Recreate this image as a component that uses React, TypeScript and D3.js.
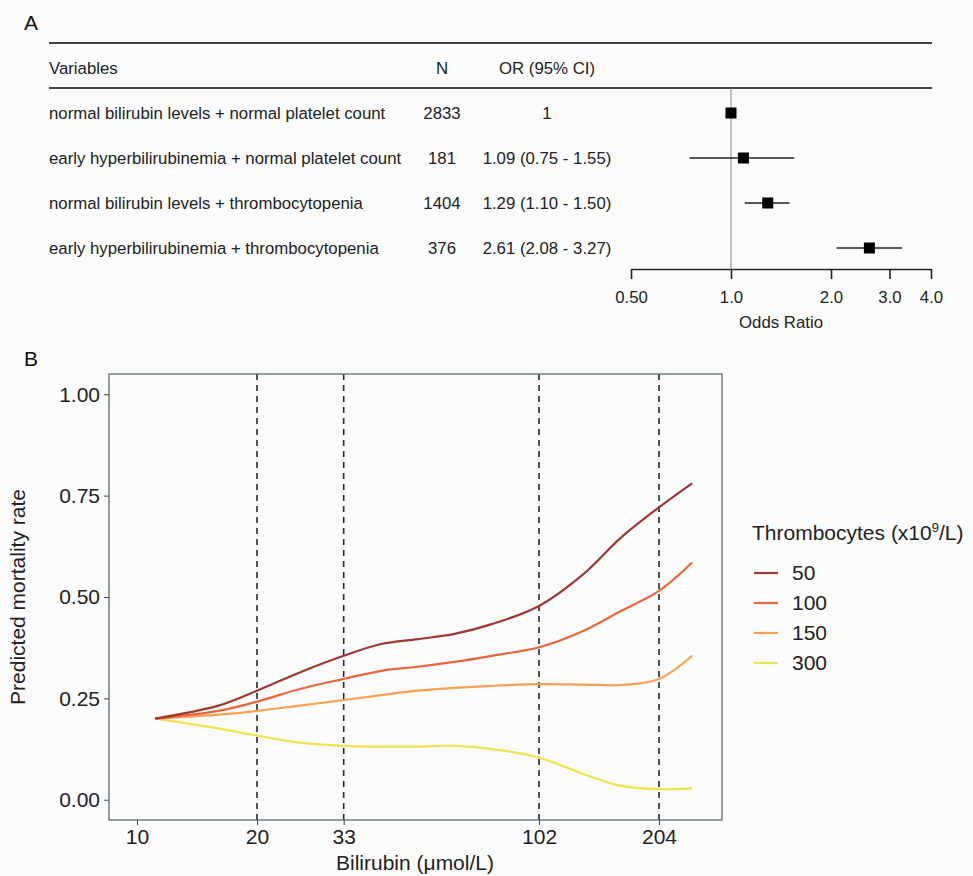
import { useEffect, useRef } from 'react';
import * as d3 from 'd3';

// Panel A: forest plot
const variables = [
  'normal bilirubin levels + normal platelet count',
  'early hyperbilirubinemia + normal platelet count',
  'normal bilirubin levels + thrombocytopenia',
  'early hyperbilirubinemia + thrombocytopenia',
];
const counts = ['2833', '181', '1404', '376'];
const orText = ['1', '1.09 (0.75 - 1.55)', '1.29 (1.10 - 1.50)', '2.61 (2.08 - 3.27)'];
const orValues = [1, 1.09, 1.29, 2.61];
const ciLow = [null, 0.75, 1.1, 2.08];
const ciHigh = [null, 1.55, 1.5, 3.27];
const orTicks = [0.5, 1, 2, 3, 4];
const orTickLabels = ['0.50', '1.0', '2.0', '3.0', '4.0'];

// Panel B: predicted mortality
const bilirubin = [11.1, 16, 20, 25.6, 33, 41, 50.6, 62.6, 77.6, 102, 132, 164, 204, 247];
const thrombo50 = [0.2, 0.232, 0.269, 0.314, 0.355, 0.384, 0.396, 0.409, 0.433, 0.478, 0.557, 0.647, 0.721, 0.78];
const thrombo100 = [0.2, 0.219, 0.242, 0.273, 0.298, 0.318, 0.328, 0.34, 0.355, 0.376, 0.417, 0.466, 0.515, 0.585];
const thrombo150 = [0.2, 0.21, 0.219, 0.232, 0.246, 0.258, 0.269, 0.276, 0.281, 0.285, 0.284, 0.283, 0.298, 0.355];
const thrombo300 = [0.2, 0.176, 0.158, 0.141, 0.133, 0.131, 0.131, 0.133, 0.125, 0.104, 0.063, 0.034, 0.026, 0.028];
const seriesNames = ['50', '100', '150', '300'];
const seriesColors = ['#9c3a30', '#e8653d', '#f6a050', '#efe34c'];
const cutoffs = [20, 33, 102, 204];
const xTicksB = [10, 20, 33, 102, 204];
const yTicksB = [0, 0.25, 0.5, 0.75, 1];

const FONT = '"Liberation Sans", Arial, Helvetica, sans-serif';

function App() {
  const svgRef = useRef(null);

  useEffect(() => {
    const width = 973;
    const height = 876;
    const svg = d3.select(svgRef.current)
      .attr('width', width)
      .attr('height', height)
      .style('font-family', FONT);
    svg.selectAll('*').remove();

    svg.append('rect').attr('width', width).attr('height', height).attr('fill', '#fbfbfc');

    // ---------- Panel A ----------
    svg.append('text').attr('x', 24).attr('y', 30).attr('font-size', 21).attr('fill', '#111').text('A');

    const rowY = d3.scalePoint().domain(variables).range([113, 248]);
    const tableLeft = 49;
    const tableRight = 932;
    const nX = 442;
    const orX = 547;
    const fsA = 16.8;

    [43, 88].forEach(y => {
      svg.append('line')
        .attr('x1', tableLeft).attr('x2', tableRight)
        .attr('y1', y).attr('y2', y)
        .attr('stroke', '#3c4448').attr('stroke-width', 1.8);
    });

    const header = svg.append('g').attr('font-size', fsA).attr('fill', '#222');
    header.append('text').attr('x', tableLeft).attr('y', 68).attr('dy', '0.35em').text('Variables');
    header.append('text').attr('x', nX).attr('y', 68).attr('dy', '0.35em').attr('text-anchor', 'middle').text('N');
    header.append('text').attr('x', orX).attr('y', 68).attr('dy', '0.35em').attr('text-anchor', 'middle').text('OR (95% CI)');

    const rows = svg.append('g').attr('font-size', fsA).attr('fill', '#222');
    variables.forEach((v, i) => {
      const y = rowY(v);
      rows.append('text').attr('x', tableLeft).attr('y', y).attr('dy', '0.35em').text(v);
      rows.append('text').attr('x', nX).attr('y', y).attr('dy', '0.35em').attr('text-anchor', 'middle').text(counts[i]);
      rows.append('text').attr('x', orX).attr('y', y).attr('dy', '0.35em').attr('text-anchor', 'middle').text(orText[i]);
    });

    const xOR = d3.scaleLog().base(2).domain([0.5, 4]).range([631, 931]);
    const axisY = 269;

    svg.append('line')
      .attr('x1', xOR(1)).attr('x2', xOR(1))
      .attr('y1', 88).attr('y2', axisY)
      .attr('stroke', '#888').attr('stroke-width', 1);

    variables.forEach((v, i) => {
      const y = rowY(v);
      if (ciLow[i] != null) {
        svg.append('line')
          .attr('x1', xOR(ciLow[i])).attr('x2', xOR(ciHigh[i]))
          .attr('y1', y).attr('y2', y)
          .attr('stroke', '#222').attr('stroke-width', 1.4);
      }
      svg.append('rect')
        .attr('x', xOR(orValues[i]) - 5.5).attr('y', y - 5.5)
        .attr('width', 11).attr('height', 11)
        .attr('fill', '#000');
    });

    const orAxis = svg.append('g')
      .attr('transform', `translate(0, ${axisY})`)
      .call(d3.axisBottom(xOR).tickValues(orTicks).tickFormat((d, i) => orTickLabels[i]).tickSize(10).tickSizeOuter(0).tickPadding(12));
    orAxis.select('.domain').attr('stroke', '#222').attr('stroke-width', 1.6);
    orAxis.selectAll('.tick line').attr('stroke', '#222').attr('stroke-width', 1.6);
    orAxis.selectAll('.tick text').attr('font-size', fsA).attr('font-family', FONT).attr('fill', '#222');

    svg.append('text')
      .attr('x', 781).attr('y', 322).attr('dy', '0.35em')
      .attr('text-anchor', 'middle').attr('font-size', fsA).attr('fill', '#222')
      .text('Odds Ratio');

    // ---------- Panel B ----------
    svg.append('text').attr('x', 24).attr('y', 366).attr('font-size', 21).attr('fill', '#111').text('B');

    const left = 109, right = 722, top = 374, bottom = 820;
    const xB = d3.scaleLog().domain([8.506, 293.5]).range([left, right]);
    const yB = d3.scaleLinear().domain([-0.05, 1.05]).range([bottom, top]);

    cutoffs.forEach(c => {
      svg.append('line')
        .attr('x1', xB(c)).attr('x2', xB(c))
        .attr('y1', top).attr('y2', bottom)
        .attr('stroke', '#1d2a30').attr('stroke-width', 1.6)
        .attr('stroke-dasharray', '6,5');
    });

    const series = [thrombo50, thrombo100, thrombo150, thrombo300];
    const line = d3.line()
      .x((d, i) => xB(bilirubin[i]))
      .y(d => yB(d))
      .curve(d3.curveCatmullRom.alpha(0.5));

    series.slice().reverse().forEach((s, j) => {
      const i = series.length - 1 - j;
      svg.append('path')
        .attr('d', line(s))
        .attr('fill', 'none')
        .attr('stroke', seriesColors[i])
        .attr('stroke-width', 2.2);
    });

    svg.append('rect')
      .attr('x', left).attr('y', top)
      .attr('width', right - left).attr('height', bottom - top)
      .attr('fill', 'none').attr('stroke', '#5d6b72').attr('stroke-width', 1.3);

    const yAxis = svg.append('g')
      .attr('transform', `translate(${left}, 0)`)
      .call(d3.axisLeft(yB).tickValues(yTicksB).tickFormat(d3.format('.2f')).tickSize(5).tickPadding(4));
    yAxis.select('.domain').remove();
    yAxis.selectAll('.tick line').attr('stroke', '#444');
    yAxis.selectAll('.tick text').attr('font-size', 21).attr('font-family', FONT).attr('fill', '#222');

    const xAxis = svg.append('g')
      .attr('transform', `translate(0, ${bottom})`)
      .call(d3.axisBottom(xB).tickValues(xTicksB).tickFormat(d3.format('d')).tickSize(5).tickPadding(4));
    xAxis.select('.domain').remove();
    xAxis.selectAll('.tick line').attr('stroke', '#444');
    xAxis.selectAll('.tick text').attr('font-size', 21).attr('font-family', FONT).attr('fill', '#222');

    svg.append('text')
      .attr('x', 415).attr('y', 870)
      .attr('text-anchor', 'middle').attr('font-size', 21).attr('fill', '#222')
      .text('Bilirubin (\u03bcmol/L)');

    svg.append('text')
      .attr('transform', `translate(25, ${(top + bottom) / 2}) rotate(-90)`)
      .attr('text-anchor', 'middle').attr('font-size', 21).attr('fill', '#222')
      .text('Predicted mortality rate');

    // Legend
    const legend = svg.append('g').attr('font-size', 21).attr('fill', '#222');
    const title = legend.append('text').attr('x', 752).attr('y', 540);
    title.append('tspan').text('Thrombocytes (x10');
    title.append('tspan').attr('dy', -8).attr('font-size', 13).text('9');
    title.append('tspan').attr('dy', 8).text('/L)');

    const legendY = d3.scalePoint().domain(seriesNames).range([573, 663]);
    seriesNames.forEach((name, i) => {
      const y = legendY(name);
      legend.append('line')
        .attr('x1', 754).attr('x2', 778)
        .attr('y1', y).attr('y2', y)
        .attr('stroke', seriesColors[i]).attr('stroke-width', 2.2);
      legend.append('text').attr('x', 792).attr('y', y).attr('dy', '0.35em').text(name);
    });
  }, []);

  return <svg ref={svgRef} style={{ position: 'absolute', left: 0, top: 0, display: 'block' }}></svg>;
}

export default App;
